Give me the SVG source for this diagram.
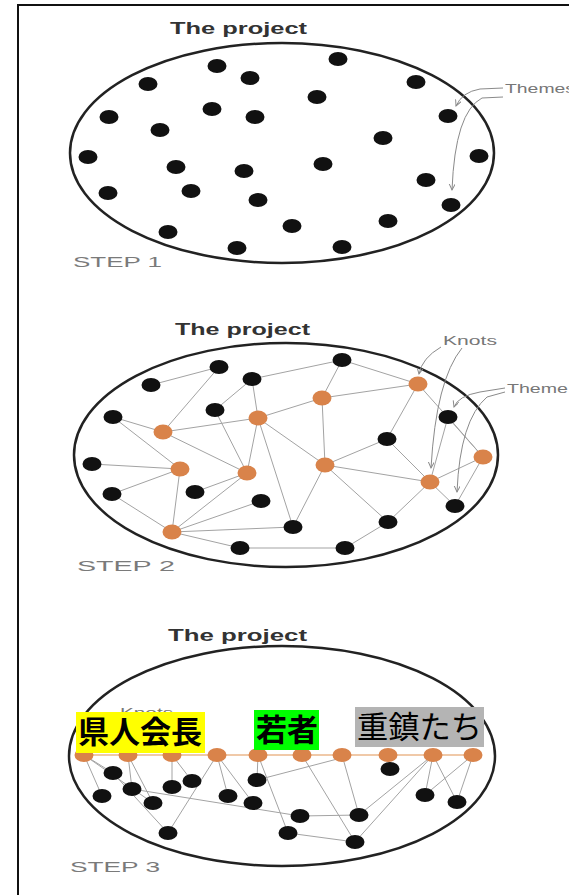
<svg xmlns="http://www.w3.org/2000/svg" width="569" height="895" viewBox="0 0 569 895">
<style>
.frame{fill:none;stroke:#111;stroke-width:2}
.outline{fill:none;stroke:#222;stroke-width:2.5}
.dot{fill:#111}
.knot{fill:#d9834a}
.edge{stroke:#a3a3a3;stroke-width:1;fill:none}
.row{stroke:#f0c9a8;stroke-width:2;fill:none}
.call{stroke:#8a8a8a;stroke-width:1;fill:none}
.title{font-family:"Liberation Sans",Arial,sans-serif;font-weight:bold;font-size:16px;fill:#333}
.step{font-family:"Liberation Sans",Arial,sans-serif;font-size:15px;fill:#7a7a7a}
.note{font-family:"Liberation Sans",Arial,sans-serif;font-size:12px;fill:#777}
.jp{font-family:"Noto Sans CJK JP","Noto Sans CJK SC",sans-serif;font-size:31px;fill:#000}
</style>
<defs>
<marker id="arr" markerWidth="8" markerHeight="8" refX="6" refY="3" orient="auto" markerUnits="userSpaceOnUse">
<path d="M0,0 L6,3 L0,6" fill="none" stroke="#8a8a8a" stroke-width="1"/>
</marker>
</defs>
<rect width="569" height="895" fill="#fff"/>
<path class="frame" d="M18,895 L18,5 L569,5"/>

<!-- ================= STEP 1 ================= -->
<g id="step1">
<text class="title" x="170" y="34" textLength="137" lengthAdjust="spacingAndGlyphs">The project</text>
<ellipse class="outline" cx="282" cy="153" rx="212" ry="110"/>
<text class="step" x="73" y="267" textLength="89" lengthAdjust="spacingAndGlyphs">STEP 1</text>
<text class="note" x="505" y="93" font-size="13" textLength="70" lengthAdjust="spacingAndGlyphs">Themes</text>
</g>
<g id="connectors1">
<path class="call" d="M503,88 L480,89 Q462,92 456,106" marker-end="url(#arr)"/>
<path class="call" d="M503,97 L482,98 Q455,112 452,190" marker-end="url(#arr)"/>
</g>
<g id="s1-n1"><ellipse class="dot" cx="217" cy="66" rx="9.5" ry="7"/></g>
<g id="s1-n2"><ellipse class="dot" cx="338" cy="59" rx="9.5" ry="7"/></g>
<g id="s1-n3"><ellipse class="dot" cx="148" cy="84" rx="9.5" ry="7"/></g>
<g id="s1-n4"><ellipse class="dot" cx="250" cy="78" rx="9.5" ry="7"/></g>
<g id="s1-n5"><ellipse class="dot" cx="416" cy="82" rx="9.5" ry="7"/></g>
<g id="s1-n6"><ellipse class="dot" cx="317" cy="97" rx="9.5" ry="7"/></g>
<g id="s1-n7"><ellipse class="dot" cx="212" cy="109" rx="9.5" ry="7"/></g>
<g id="s1-n8"><ellipse class="dot" cx="255" cy="117" rx="9.5" ry="7"/></g>
<g id="s1-n9"><ellipse class="dot" cx="109" cy="117" rx="9.5" ry="7"/></g>
<g id="s1-n10"><ellipse class="dot" cx="448" cy="116" rx="9.5" ry="7"/></g>
<g id="s1-n11"><ellipse class="dot" cx="160" cy="130" rx="9.5" ry="7"/></g>
<g id="s1-n12"><ellipse class="dot" cx="383" cy="138" rx="9.5" ry="7"/></g>
<g id="s1-n13"><ellipse class="dot" cx="88" cy="157" rx="9.5" ry="7"/></g>
<g id="s1-n14"><ellipse class="dot" cx="479" cy="156" rx="9.5" ry="7"/></g>
<g id="s1-n15"><ellipse class="dot" cx="176" cy="167" rx="9.5" ry="7"/></g>
<g id="s1-n16"><ellipse class="dot" cx="244" cy="171" rx="9.5" ry="7"/></g>
<g id="s1-n17"><ellipse class="dot" cx="323" cy="164" rx="9.5" ry="7"/></g>
<g id="s1-n18"><ellipse class="dot" cx="426" cy="180" rx="9.5" ry="7"/></g>
<g id="s1-n19"><ellipse class="dot" cx="108" cy="193" rx="9.5" ry="7"/></g>
<g id="s1-n20"><ellipse class="dot" cx="191" cy="191" rx="9.5" ry="7"/></g>
<g id="s1-n21"><ellipse class="dot" cx="258" cy="200" rx="9.5" ry="7"/></g>
<g id="s1-n22"><ellipse class="dot" cx="451" cy="205" rx="9.5" ry="7"/></g>
<g id="s1-n23"><ellipse class="dot" cx="292" cy="226" rx="9.5" ry="7"/></g>
<g id="s1-n24"><ellipse class="dot" cx="388" cy="221" rx="9.5" ry="7"/></g>
<g id="s1-n25"><ellipse class="dot" cx="168" cy="232" rx="9.5" ry="7"/></g>
<g id="s1-n26"><ellipse class="dot" cx="237" cy="248" rx="9.5" ry="7"/></g>
<g id="s1-n27"><ellipse class="dot" cx="342" cy="247" rx="9.5" ry="7"/></g>

<!-- ================= STEP 2 ================= -->
<g id="step2">
<text class="title" x="175" y="335" textLength="135" lengthAdjust="spacingAndGlyphs">The project</text>
<ellipse class="outline" cx="286" cy="455" rx="212" ry="112"/>
<text class="step" x="77" y="571" textLength="98" lengthAdjust="spacingAndGlyphs">STEP 2</text>
<text class="note" x="443" y="345" textLength="54" lengthAdjust="spacingAndGlyphs">Knots</text>
<text class="note" x="507" y="393" font-size="13" textLength="61" lengthAdjust="spacingAndGlyphs">Theme</text>
</g>
<g id="connectors2">
<path class="edge" d="M151,385 L219,367 M113,417 L163,432 M163,432 L219,367 M163,432 L258,418 M163,432 L247,473 M215,410 L247,473 M252,379 L258,418 M252,379 L215,410 M252,379 L342,360 M258,418 L322,398 M322,398 L342,360 M322,398 L418,384 M342,360 L418,384 M322,398 L325,465 M258,418 L325,465 M258,418 L247,473 M258,418 L293,527 M325,465 L387,439 M325,465 L430,482 M325,465 L293,527 M325,465 L388,522 M418,384 L387,439 M418,384 L483,457 M387,439 L430,482 M448,417 L430,482 M448,417 L483,457 M483,457 L430,482 M483,457 L455,506 M430,482 L388,522 M430,482 L455,506 M92,464 L180,469 M112,494 L180,469 M180,469 L172,532 M195,492 L247,473 M113,417 L180,469 M112,494 L172,532 M172,532 L247,473 M172,532 L261,501 M172,532 L293,527 M172,532 L240,548 M240,548 L345,548 M345,548 L388,522"/>
<path class="call" d="M441,347 Q422,358 419,374" marker-end="url(#arr)"/>
<path class="call" d="M462,348 Q436,380 431,468" marker-end="url(#arr)"/>
<path class="call" d="M505,388 L480,392 Q458,396 454,407" marker-end="url(#arr)"/>
<path class="call" d="M505,392 L487,397 Q460,420 457,492" marker-end="url(#arr)"/>
</g>
<g id="s2-b1"><ellipse class="dot" cx="342" cy="360" rx="9.5" ry="7"/></g>
<g id="s2-b2"><ellipse class="dot" cx="219" cy="367" rx="9.5" ry="7"/></g>
<g id="s2-b3"><ellipse class="dot" cx="252" cy="379" rx="9.5" ry="7"/></g>
<g id="s2-b4"><ellipse class="dot" cx="151" cy="385" rx="9.5" ry="7"/></g>
<g id="s2-b5"><ellipse class="dot" cx="113" cy="417" rx="9.5" ry="7"/></g>
<g id="s2-b6"><ellipse class="dot" cx="215" cy="410" rx="9.5" ry="7"/></g>
<g id="s2-b7"><ellipse class="dot" cx="448" cy="417" rx="9.5" ry="7"/></g>
<g id="s2-b8"><ellipse class="dot" cx="387" cy="439" rx="9.5" ry="7"/></g>
<g id="s2-b9"><ellipse class="dot" cx="92" cy="464" rx="9.5" ry="7"/></g>
<g id="s2-b10"><ellipse class="dot" cx="195" cy="492" rx="9.5" ry="7"/></g>
<g id="s2-b11"><ellipse class="dot" cx="112" cy="494" rx="9.5" ry="7"/></g>
<g id="s2-b12"><ellipse class="dot" cx="261" cy="501" rx="9.5" ry="7"/></g>
<g id="s2-b13"><ellipse class="dot" cx="293" cy="527" rx="9.5" ry="7"/></g>
<g id="s2-b14"><ellipse class="dot" cx="388" cy="522" rx="9.5" ry="7"/></g>
<g id="s2-b15"><ellipse class="dot" cx="455" cy="506" rx="9.5" ry="7"/></g>
<g id="s2-b16"><ellipse class="dot" cx="240" cy="548" rx="9.5" ry="7"/></g>
<g id="s2-b17"><ellipse class="dot" cx="345" cy="548" rx="9.5" ry="7"/></g>
<g id="s2-k1"><ellipse class="knot" cx="418" cy="384" rx="9.5" ry="7.5"/></g>
<g id="s2-k2"><ellipse class="knot" cx="322" cy="398" rx="9.5" ry="7.5"/></g>
<g id="s2-k3"><ellipse class="knot" cx="258" cy="418" rx="9.5" ry="7.5"/></g>
<g id="s2-k4"><ellipse class="knot" cx="163" cy="432" rx="9.5" ry="7.5"/></g>
<g id="s2-k5"><ellipse class="knot" cx="180" cy="469" rx="9.5" ry="7.5"/></g>
<g id="s2-k6"><ellipse class="knot" cx="247" cy="473" rx="9.5" ry="7.5"/></g>
<g id="s2-k7"><ellipse class="knot" cx="325" cy="465" rx="9.5" ry="7.5"/></g>
<g id="s2-k8"><ellipse class="knot" cx="483" cy="457" rx="9.5" ry="7.5"/></g>
<g id="s2-k9"><ellipse class="knot" cx="430" cy="482" rx="9.5" ry="7.5"/></g>
<g id="s2-k10"><ellipse class="knot" cx="172" cy="532" rx="9.5" ry="7.5"/></g>

<!-- ================= STEP 3 ================= -->
<g id="step3">
<text class="title" x="168" y="641" textLength="139" lengthAdjust="spacingAndGlyphs">The project</text>
<ellipse class="outline" cx="282" cy="756" rx="213" ry="110"/>
<text class="step" x="70" y="872" textLength="90" lengthAdjust="spacingAndGlyphs">STEP 3</text>
<text class="note" x="120" y="717" fill="#999" textLength="53" lengthAdjust="spacingAndGlyphs">Knots</text>
</g>
<g id="connectors3">
<path class="row" d="M84,755 L477,755"/>
<path class="edge" d="M84,755 L113,773 M84,755 L102,796 M84,755 L153,803 M113,773 L168,833 M128,755 L153,803 M128,755 L132,789 M172,755 L172,787 M172,755 L192,781 M217,755 L168,833 M217,755 L228,796 M217,755 L253,803 M258,755 L257,780 M258,755 L288,833 M132,789 L300,816 M257,780 L345,757 M302,755 L355,842 M342,755 L359,815 M388,755 L390,769 M433,755 L359,815 M433,755 L355,842 M433,755 L425,795 M433,755 L457,802 M473,755 L425,795 M473,755 L457,802 M300,816 L359,815 M288,833 L355,842"/>
</g>
<g id="s3-k1"><ellipse class="knot" cx="84" cy="755" rx="9.5" ry="7"/></g>
<g id="s3-k2"><ellipse class="knot" cx="128" cy="755" rx="9.5" ry="7"/></g>
<g id="s3-k3"><ellipse class="knot" cx="172" cy="755" rx="9.5" ry="7"/></g>
<g id="s3-k4"><ellipse class="knot" cx="217" cy="755" rx="9.5" ry="7"/></g>
<g id="s3-k5"><ellipse class="knot" cx="258" cy="755" rx="9.5" ry="7"/></g>
<g id="s3-k6"><ellipse class="knot" cx="302" cy="755" rx="9.5" ry="7"/></g>
<g id="s3-k7"><ellipse class="knot" cx="342" cy="755" rx="9.5" ry="7"/></g>
<g id="s3-k8"><ellipse class="knot" cx="388" cy="755" rx="9.5" ry="7"/></g>
<g id="s3-k9"><ellipse class="knot" cx="433" cy="755" rx="9.5" ry="7"/></g>
<g id="s3-k10"><ellipse class="knot" cx="473" cy="755" rx="9.5" ry="7"/></g>
<g id="s3-b1"><ellipse class="dot" cx="113" cy="773" rx="9.5" ry="7"/></g>
<g id="s3-b2"><ellipse class="dot" cx="132" cy="789" rx="9.5" ry="7"/></g>
<g id="s3-b3"><ellipse class="dot" cx="102" cy="796" rx="9.5" ry="7"/></g>
<g id="s3-b4"><ellipse class="dot" cx="153" cy="803" rx="9.5" ry="7"/></g>
<g id="s3-b5"><ellipse class="dot" cx="172" cy="787" rx="9.5" ry="7"/></g>
<g id="s3-b6"><ellipse class="dot" cx="192" cy="781" rx="9.5" ry="7"/></g>
<g id="s3-b7"><ellipse class="dot" cx="257" cy="780" rx="9.5" ry="7"/></g>
<g id="s3-b8"><ellipse class="dot" cx="228" cy="796" rx="9.5" ry="7"/></g>
<g id="s3-b9"><ellipse class="dot" cx="253" cy="803" rx="9.5" ry="7"/></g>
<g id="s3-b10"><ellipse class="dot" cx="390" cy="769" rx="9.5" ry="7"/></g>
<g id="s3-b11"><ellipse class="dot" cx="425" cy="795" rx="9.5" ry="7"/></g>
<g id="s3-b12"><ellipse class="dot" cx="457" cy="802" rx="9.5" ry="7"/></g>
<g id="s3-b13"><ellipse class="dot" cx="300" cy="816" rx="9.5" ry="7"/></g>
<g id="s3-b14"><ellipse class="dot" cx="359" cy="815" rx="9.5" ry="7"/></g>
<g id="s3-b15"><ellipse class="dot" cx="168" cy="833" rx="9.5" ry="7"/></g>
<g id="s3-b16"><ellipse class="dot" cx="288" cy="833" rx="9.5" ry="7"/></g>
<g id="s3-b17"><ellipse class="dot" cx="355" cy="842" rx="9.5" ry="7"/></g>

<g id="label-kenjinkaicho">
<rect x="76" y="712" width="129" height="41" fill="#ffff00"/>
<text class="jp" x="78" y="743" font-weight="bold" textLength="124" lengthAdjust="spacingAndGlyphs">県人会長</text>
</g>
<g id="label-wakamono">
<rect x="254" y="710" width="65" height="40" fill="#00ff00"/>
<text class="jp" x="256" y="741" font-weight="bold">若者</text>
</g>
<g id="label-jucchin">
<rect x="355" y="707" width="129" height="40" fill="#b4b4b4"/>
<text class="jp" x="357" y="738" textLength="125" lengthAdjust="spacingAndGlyphs">重鎮たち</text>
</g>
</svg>
